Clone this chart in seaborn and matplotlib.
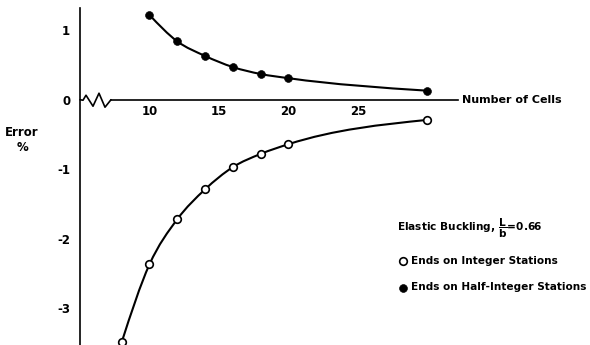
import numpy as np
import pandas as pd
import matplotlib
matplotlib.use("Agg")
import matplotlib.pyplot as plt
from matplotlib.path import Path
from matplotlib.patches import PathPatch
import seaborn as sns

# values
cells_half = [10, 12, 14, 16, 18, 20, 30]
error_half = [1.22, 0.84, 0.63, 0.47, 0.37, 0.31, 0.13]

cells_int = [8, 10, 12, 14, 16, 18, 20, 30]
error_int = [-3.49, -2.37, -1.72, -1.29, -0.97, -0.78, -0.64, -0.29]

x_ticks = [10, 15, 20, 25]
y_ticks = [1, 0, -1, -2, -3]

sns.set_style("white")
plt.rcParams['font.family'] = ['DejaVu Sans']
plt.rcParams['font.weight'] = 'bold'
for k in ['text.color', 'axes.labelcolor', 'xtick.color', 'ytick.color', 'axes.edgecolor']:
    plt.rcParams[k] = 'black'

df_half = pd.DataFrame({"cells": cells_half, "error": error_half})
df_int = pd.DataFrame({"cells": cells_int, "error": error_int})


def smooth_path(x, y):
    # hand-drawn look: cubic Bezier segments through the points,
    # tangents from the neighbouring secant slopes
    x = np.asarray(x, float)
    y = np.asarray(y, float)
    h = np.diff(x)
    d = np.diff(y) / h
    m = np.empty_like(x)
    m[1:-1] = (d[:-1] * h[1:] + d[1:] * h[:-1]) / (h[:-1] + h[1:])
    m[0] = (3 * d[0] - m[1]) / 2
    m[-1] = (3 * d[-1] - m[-2]) / 2
    verts = [(x[0], y[0])]
    codes = [Path.MOVETO]
    for i in range(len(x) - 1):
        verts += [(x[i] + h[i] / 3, y[i] + m[i] * h[i] / 3),
                  (x[i+1] - h[i] / 3, y[i+1] - m[i+1] * h[i] / 3),
                  (x[i+1], y[i+1])]
        codes += [Path.CURVE4] * 3
    return Path(verts, codes)


fig = plt.figure(figsize=(5.9, 3.45), dpi=100)
ax = fig.add_axes([80/590, 0.0, (458-80)/590, 1 - 8/345])

# curves
for df in (df_half, df_int):
    ax.add_patch(PathPatch(smooth_path(df["cells"], df["error"]), facecolor="none",
                           edgecolor="black", lw=1.5, zorder=3))

# points
sns.scatterplot(data=df_int, x="cells", y="error", marker="o", s=30,
                facecolor="white", edgecolor="black", linewidth=1.2, ax=ax,
                label="Ends on Integer Stations", zorder=5, clip_on=False)
sns.scatterplot(data=df_half, x="cells", y="error", marker="o", s=32,
                color="black", edgecolor="black", ax=ax,
                label="Ends on Half-Integer Stations", zorder=5, clip_on=False)

ax.set_xlim(5, 32.2)
ax.set_ylim(-3.53, 1.32)

# spines: only y axis, x axis drawn through zero with a break mark
for s in ["top", "right"]:
    ax.spines[s].set_visible(False)
ax.spines["left"].set_linewidth(1.2)
ax.spines["bottom"].set_position(("data", 0))
ax.spines["bottom"].set_bounds(7.23, 32.2)
ax.spines["bottom"].set_linewidth(1.2)

# zigzag axis break
zx = 5 + (np.array([80, 83, 86, 93, 99, 105, 111]) - 80) / 13.9
zy = (99.5 - np.array([99.5, 100, 95, 106, 93, 107, 99.5])) / 69.5
ax.plot(zx, zy, color="black", lw=1.2, clip_on=False)

ax.set_xticks(x_ticks)
ax.set_xticklabels([str(t) for t in x_ticks], fontsize=8.5, fontweight="bold")
ax.tick_params(axis="x", length=0, pad=4)
ax.set_yticks(y_ticks)
ax.set_yticklabels([str(t) for t in y_ticks], fontsize=8.5, fontweight="bold")
ax.tick_params(axis="y", direction="in", length=3, width=1, pad=7)

ax.set_xlabel("")
ax.set_ylabel("Error\n%", rotation=0, fontsize=8.5, fontweight="bold",
              ha="center", va="center")
ax.yaxis.set_label_coords(-0.153, 0.608)

ax.text(32.5, 0, "Number of Cells", fontsize=8, fontweight="bold",
        ha="left", va="center", clip_on=False)

leg = ax.legend(title=r"Elastic Buckling, $\mathbf{\dfrac{L}{b}}$=0.66",
                loc="upper left", bbox_to_anchor=(392/590, 1 - 211/345),
                bbox_transform=fig.transFigure, frameon=False, alignment="left",
                fontsize=7.6, title_fontsize=7.6, labelspacing=1.55,
                handletextpad=0.3, handlelength=1.0, borderpad=0)
leg.get_title().set_fontweight("bold")
for t in leg.get_texts():
    t.set_fontweight("bold")

fig.savefig("out.png", dpi=100)
